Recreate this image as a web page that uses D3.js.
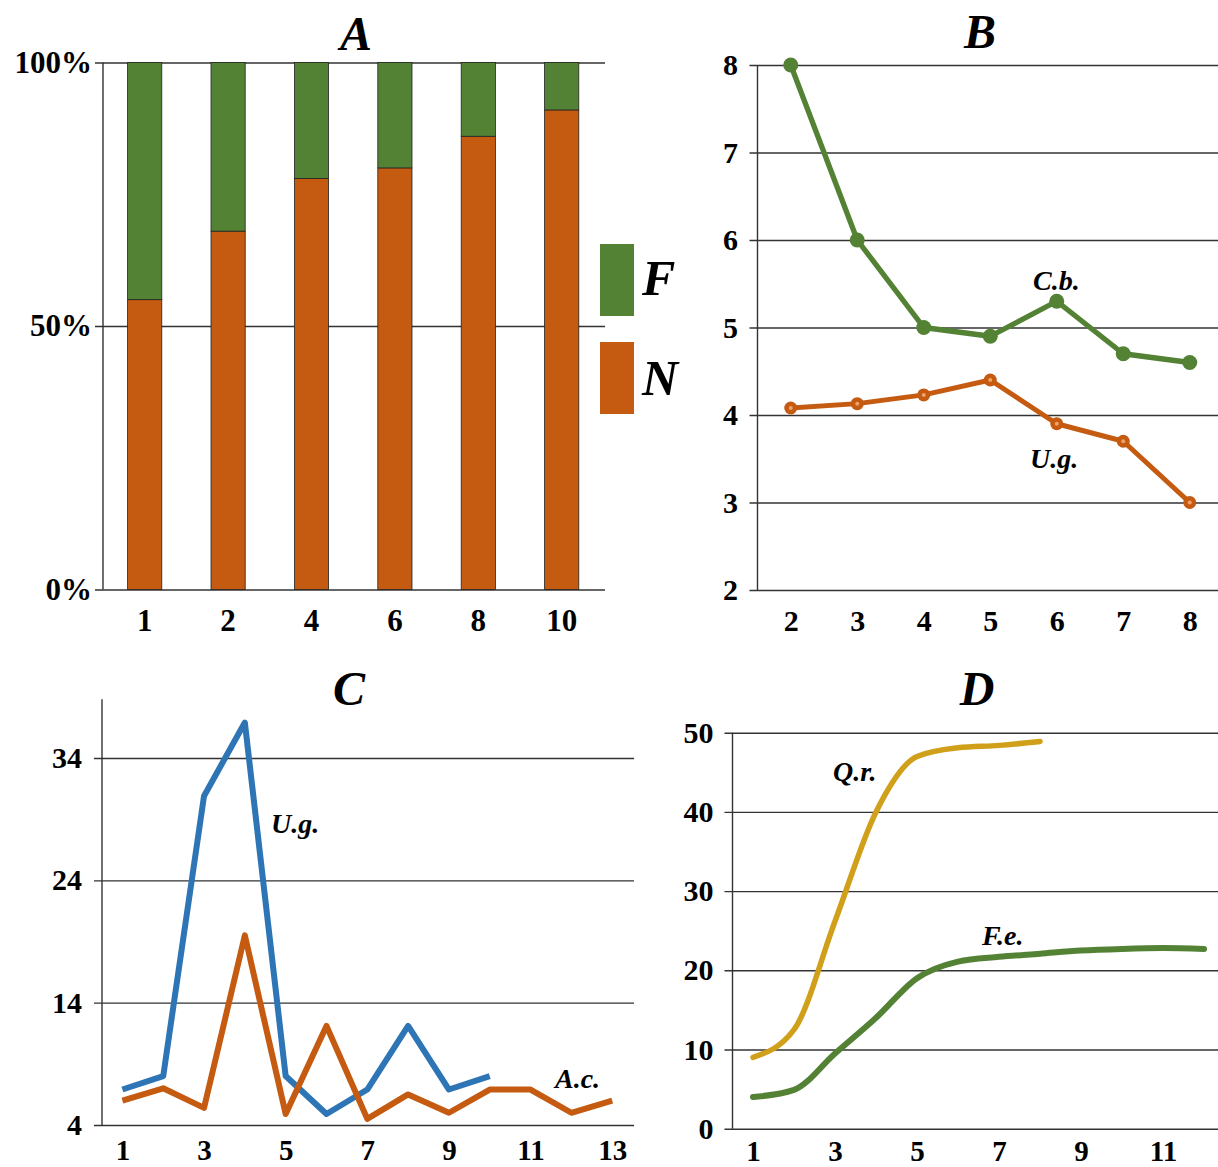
<!DOCTYPE html>
<html>
<head>
<meta charset="utf-8">
<script src="https://cdn.jsdelivr.net/npm/d3@7"></script>
<style>
    body { margin: 0; background: #fff; }
</style>
</head>
<body>
<div class="chart"></div>
<script>
// panel A - stacked share of F / N
let aCategories = ["1", "2", "4", "6", "8", "10"];
let aN = [55, 68, 78, 80, 86, 91];
let aF = [45, 32, 22, 20, 14, 9];
let aTicks = [0, 50, 100];
let aLegend = ["F", "N"];

// panel B
let bX = [2, 3, 4, 5, 6, 7, 8];
let bCb = [8.0, 6.0, 5.0, 4.9, 5.3, 4.7, 4.6];
let bUg = [4.08, 4.13, 4.23, 4.4, 3.9, 3.7, 3.0];
let bYTicks = [2, 3, 4, 5, 6, 7, 8];

// panel C
let cX = [1, 2, 3, 4, 5, 6, 7, 8, 9, 10, 11, 12, 13];
let cUg = [6.9, 8.0, 30.9, 36.9, 8.0, 4.9, 6.9, 12.1, 6.9, 8.0];
let cAc = [6.0, 7.0, 5.4, 19.5, 4.9, 12.1, 4.5, 6.5, 5.0, 6.9, 6.9, 5.0, 6.0];
let cYTicks = [4, 14, 24, 34];
let cXTicks = [1, 3, 5, 7, 9, 11, 13];

// panel D
let dX = [1, 2, 3, 4, 5, 6, 7, 8, 9, 10, 11, 12];
let dQr = [9.0, 12.5, 26.2, 40.0, 47.0, 48.1, 48.4, 48.9];
let dFe = [4.0, 4.9, 9.5, 14.0, 19.0, 21.1, 21.7, 22.1, 22.5, 22.7, 22.8, 22.7];
let dYTicks = [0, 10, 20, 30, 40, 50];
let dXTicks = [1, 3, 5, 7, 9, 11];

const GREEN = "#548235";
const ORANGE = "#C55A11";
const BLUE = "#2E75B6";
const GOLD = "#D1A01A";
const GRID = "#333";
const FONT = "Liberation Serif";

let svg = d3.select(".chart").append("svg")
    .attr("width", 1218).attr("height", 1167);

function yAxis(y, ticks, left, right, pad, fmt, size) {
    // gridlines, starting a little left of the axis like short outer ticks
    svg.append("g").attr("transform", `translate(${left - 8},0)`)
        .call(d3.axisLeft(y).tickValues(ticks).tickSize(-(right - left + 8)).tickFormat(""))
        .call(g => g.select(".domain").remove())
        .selectAll("line").attr("stroke", GRID).attr("stroke-width", 1.4);
    svg.append("g").attr("transform", `translate(${left},0)`)
        .call(d3.axisLeft(y).tickValues(ticks).tickSize(0).tickPadding(pad).tickFormat(fmt))
        .call(g => g.select(".domain").remove())
        .selectAll("text").style("font-size", size + "px");
    let d = y.domain();
    svg.append("line")
        .attr("x1", left).attr("x2", left)
        .attr("y1", y(d[1])).attr("y2", y(d[0]))
        .attr("stroke", GRID).attr("stroke-width", 1.4);
}

function xAxis(x, ticks, top, baseline, size, fmt) {
    let ax = d3.axisBottom(x).tickValues(ticks).tickSize(0);
    if (fmt) ax.tickFormat(fmt);
    let g = svg.append("g").attr("transform", `translate(0,${top})`).call(ax);
    g.select(".domain").remove();
    g.selectAll("text").attr("dy", null).attr("y", baseline - top).style("font-size", size + "px");
}

function title(txt, cx, baseline) {
    svg.append("text").attr("class", "it")
        .attr("x", cx).attr("y", baseline)
        .attr("text-anchor", "middle").style("font-size", "48px")
        .text(txt);
}

function note(txt, x, y) {
    svg.append("text").attr("class", "it")
        .attr("x", x).attr("y", y).style("font-size", "28px").text(txt);
}

// ---------- A ----------
{
    let x = d3.scaleBand().domain(aCategories).range([103, 603.4]).paddingInner(0.59).paddingOuter(0.295);
    let y = d3.scaleLinear().domain([0, 100]).range([589.5, 62.5]);
    yAxis(y, aTicks, 103, 605, 11, d => d + "%", 31);
    let bars = svg.append("g");
    bars.selectAll(".n").data(aCategories).enter().append("rect")
        .attr("x", d => x(d)).attr("width", x.bandwidth())
        .attr("y", (d, i) => y(aN[i])).attr("height", (d, i) => y(0) - y(aN[i]))
        .attr("fill", ORANGE).attr("stroke", "#222").attr("stroke-width", 0.8);
    bars.selectAll(".f").data(aCategories).enter().append("rect")
        .attr("x", d => x(d)).attr("width", x.bandwidth())
        .attr("y", (d, i) => y(aN[i] + aF[i])).attr("height", (d, i) => y(aN[i]) - y(aN[i] + aF[i]))
        .attr("fill", GREEN).attr("stroke", "#222").attr("stroke-width", 0.8);
    xAxis(x, aCategories, 589.5, 631, 31);
    title("A", 356, 50);

    let legColors = [GREEN, ORANGE];
    aLegend.forEach(function (name, i) {
        svg.append("rect").attr("x", 600).attr("y", 244 + i * 98)
            .attr("width", 34).attr("height", 72).attr("fill", legColors[i]);
        svg.append("text").attr("class", "it").attr("x", 642).attr("y", 295 + i * 100)
            .style("font-size", "50px").text(name);
    });
}

// ---------- B ----------
{
    let x = d3.scaleLinear().domain([1.5, 8.5]).range([757.5, 1223]);
    let y = d3.scaleLinear().domain([2, 8]).range([590, 65]);
    yAxis(y, bYTicks, 757.5, 1218, 19.5, d3.format("d"), 30);
    xAxis(x, bX, 590, 631, 30, d3.format("d"));
    let line = d3.line().x((d, i) => x(bX[i])).y(d => y(d));
    svg.append("path").attr("d", line(bUg)).attr("fill", "none")
        .attr("stroke", ORANGE).attr("stroke-width", 5).attr("stroke-linejoin", "round");
    svg.selectAll(".ugDot").data(bUg).enter().append("circle")
        .attr("cx", (d, i) => x(bX[i])).attr("cy", d => y(d)).attr("r", 6.5).attr("fill", ORANGE);
    svg.selectAll(".ugIn").data(bUg).enter().append("circle")
        .attr("cx", (d, i) => x(bX[i])).attr("cy", d => y(d)).attr("r", 2).attr("fill", "#F2A266");
    svg.append("path").attr("d", line(bCb)).attr("fill", "none")
        .attr("stroke", GREEN).attr("stroke-width", 5.3).attr("stroke-linejoin", "round");
    svg.selectAll(".cbDot").data(bCb).enter().append("circle")
        .attr("cx", (d, i) => x(bX[i])).attr("cy", d => y(d)).attr("r", 7.5).attr("fill", GREEN);
    title("B", 980, 48);
    note("C.b.", 1033, 290);
    note("U.g.", 1030, 468);
}

// ---------- C ----------
{
    let x = d3.scaleLinear().domain([0.5, 13.5]).range([102, 632.6]);
    let y = d3.scaleLinear().domain([4, 38.8]).range([1125, 699.3]);
    yAxis(y, cYTicks, 102, 634, 20, d3.format("d"), 30);
    xAxis(x, cXTicks, 1125, 1160, 29, d3.format("d"));
    let line = d3.line().x((d, i) => x(cX[i])).y(d => y(d));
    svg.append("path").attr("d", line(cUg)).attr("fill", "none")
        .attr("stroke", BLUE).attr("stroke-width", 6).attr("stroke-linejoin", "round");
    svg.append("path").attr("d", line(cAc)).attr("fill", "none")
        .attr("stroke", ORANGE).attr("stroke-width", 6).attr("stroke-linejoin", "round");
    title("C", 349, 705);
    note("U.g.", 271, 833);
    note("A.c.", 555, 1088);
}

// ---------- D ----------
{
    let x = d3.scaleLinear().domain([0.5, 12.34]).range([732.5, 1218]);
    let y = d3.scaleLinear().domain([0, 50]).range([1128.7, 732.7]);
    yAxis(y, dYTicks, 732.5, 1218, 19, d3.format("d"), 30);
    xAxis(x, dXTicks, 1128.7, 1161, 29, d3.format("d"));
    let line = d3.line().curve(d3.curveMonotoneX).x((d, i) => x(dX[i])).y(d => y(d));
    svg.append("path").attr("d", line(dQr)).attr("fill", "none")
        .attr("stroke", GOLD).attr("stroke-width", 5.5).attr("stroke-linecap", "round");
    svg.append("path").attr("d", line(dFe)).attr("fill", "none")
        .attr("stroke", GREEN).attr("stroke-width", 6).attr("stroke-linecap", "round");
    title("D", 977, 705);
    note("Q.r.", 833, 781);
    note("F.e.", 982, 945);
}

// all text in bold serif, notes and titles italic
svg.selectAll("text")
    .style("font-family", FONT)
    .style("font-weight", "bold")
    .style("fill", "#000");
svg.selectAll("text.it").style("font-style", "italic");
</script>
</body>
</html>
